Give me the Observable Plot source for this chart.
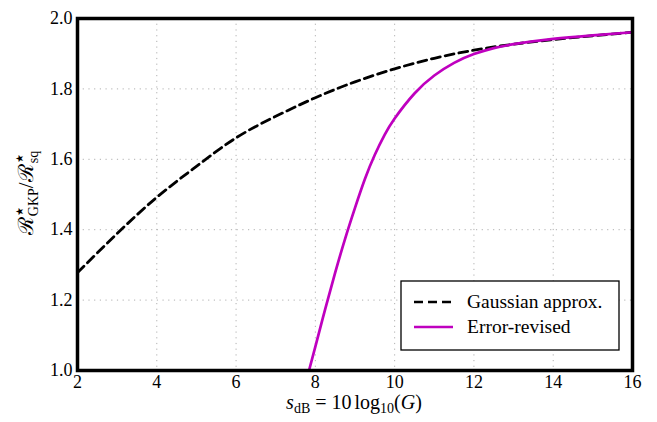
<!DOCTYPE html>
<html>
<head>
<meta charset="utf-8">
<script src="https://cdn.jsdelivr.net/npm/d3@7"></script>
<script src="https://cdn.jsdelivr.net/npm/@observablehq/plot@0.6"></script>
<style>
  html, body { margin: 0; padding: 0; background: white; }
  #chart svg { display: block; }
</style>
</head>
<body>
<div id="chart"></div>
<script>
// ---- data ----
const xTicks = [2, 4, 6, 8, 10, 12, 14, 16];
const yTicks = [1.0, 1.2, 1.4, 1.6, 1.8, 2.0];

const gaussX = [2, 3, 4, 5, 6, 7, 8, 9, 10, 11, 12, 13, 14, 15, 16];
const gaussY = [1.278, 1.389, 1.492, 1.580, 1.661, 1.722, 1.775, 1.820, 1.857, 1.887, 1.910, 1.927, 1.940, 1.951, 1.961];

const errX = [7.84, 8.0, 8.25, 8.5, 8.75, 9.0, 9.25, 9.5, 9.75, 10.0, 10.5, 11.0, 11.5, 12.0, 12.5, 13.0, 14.0, 15.0, 16.0];
const errY = [1.0, 1.068, 1.175, 1.278, 1.374, 1.462, 1.544, 1.613, 1.670, 1.716, 1.787, 1.838, 1.874, 1.899, 1.916, 1.927, 1.942, 1.952, 1.961];

const seriesNames = ["Gaussian approx.", "Error-revised"];

const gauss = gaussX.map((x, i) => ({x, y: gaussY[i]}));
const err = errX.map((x, i) => ({x, y: errY[i]}));

const MAGENTA = "#bf00bf";

const plot = Plot.plot({
  width: 657,
  height: 422,
  marginLeft: 77,
  marginRight: 25,
  marginTop: 18,
  marginBottom: 52,
  style: { fontFamily: "'Liberation Serif', serif", fontSize: "18px", background: "white", color: "black" },
  x: { domain: [2, 16], ticks: xTicks, tickSize: 0, tickPadding: 5, label: null, tickFormat: d => String(d) },
  y: { domain: [1, 2], ticks: yTicks, tickSize: 0, tickPadding: 5, label: null, tickFormat: d => d.toFixed(1) },
  marks: [
    Plot.gridX(xTicks, { stroke: "#b0b0b0", strokeOpacity: 1, strokeWidth: 1, strokeDasharray: "1.2,4.5" }),
    Plot.gridY(yTicks, { stroke: "#b0b0b0", strokeOpacity: 1, strokeWidth: 1, strokeDasharray: "1.2,4.5" }),
    Plot.line(gauss, { x: "x", y: "y", stroke: "black", strokeWidth: 2.8, strokeDasharray: "9,5", curve: "natural" }),
    Plot.line(err, { x: "x", y: "y", stroke: MAGENTA, strokeWidth: 2.7, curve: "natural" }),
    Plot.frame({ stroke: "black", strokeWidth: 3.5 })
  ]
});

document.getElementById("chart").appendChild(plot);

const svg = d3.select(plot);
const serif = "'Liberation Serif', 'DejaVu Serif', serif";

// y axis label
const yl = svg.append("text")
  .attr("transform", "translate(33,193) rotate(-90)")
  .attr("text-anchor", "middle")
  .attr("font-family", serif)
  .attr("font-size", 21)
  .attr("fill", "black");
yl.append("tspan").text("ℛ");
yl.append("tspan").attr("font-size", 10).attr("dx", 1).attr("dy", -10).text("★");
yl.append("tspan").attr("font-size", 14).attr("dx", -9).attr("dy", 15).text("GKP");
yl.append("tspan").attr("dy", -5).text("/");
yl.append("tspan").text("ℛ");
yl.append("tspan").attr("font-size", 10).attr("dx", 1).attr("dy", -10).text("★");
yl.append("tspan").attr("font-size", 14).attr("dx", -9).attr("dy", 15).text("sq");

// x axis label
const xl = svg.append("text")
  .attr("x", 354)
  .attr("y", 409)
  .attr("text-anchor", "middle")
  .attr("font-family", serif)
  .attr("font-size", 20)
  .attr("fill", "black");
xl.append("tspan").attr("font-style", "italic").text("s");
xl.append("tspan").attr("font-size", 14).attr("dy", 4).text("dB");
xl.append("tspan").attr("dy", -4).attr("dx", 5).text("=");
xl.append("tspan").attr("dx", 5).text("10");
xl.append("tspan").attr("dx", 3).text("log");
xl.append("tspan").attr("font-size", 14).attr("dy", 4).text("10");
xl.append("tspan").attr("dy", -4).text("(");
xl.append("tspan").attr("font-style", "italic").text("G");
xl.append("tspan").text(")");

// legend
const lg = svg.append("g");
lg.append("rect").attr("x", 401).attr("y", 281).attr("width", 218).attr("height", 69)
  .attr("fill", "white").attr("stroke", "black").attr("stroke-width", 1.3);
const items = [
  { name: seriesNames[0], stroke: "black", dash: "9,5", y: 302 },
  { name: seriesNames[1], stroke: MAGENTA, dash: null, y: 327 }
];
items.forEach(it => {
  lg.append("line").attr("x1", 414).attr("x2", 453).attr("y1", it.y).attr("y2", it.y)
    .attr("stroke", it.stroke).attr("stroke-width", 2.7)
    .attr("stroke-dasharray", it.dash);
  lg.append("text").attr("x", 467).attr("y", it.y + 6)
    .attr("text-anchor", "start")
    .attr("font-family", serif).attr("font-size", 19.5).attr("fill", "black")
    .text(it.name);
});
</script>
</body>
</html>
